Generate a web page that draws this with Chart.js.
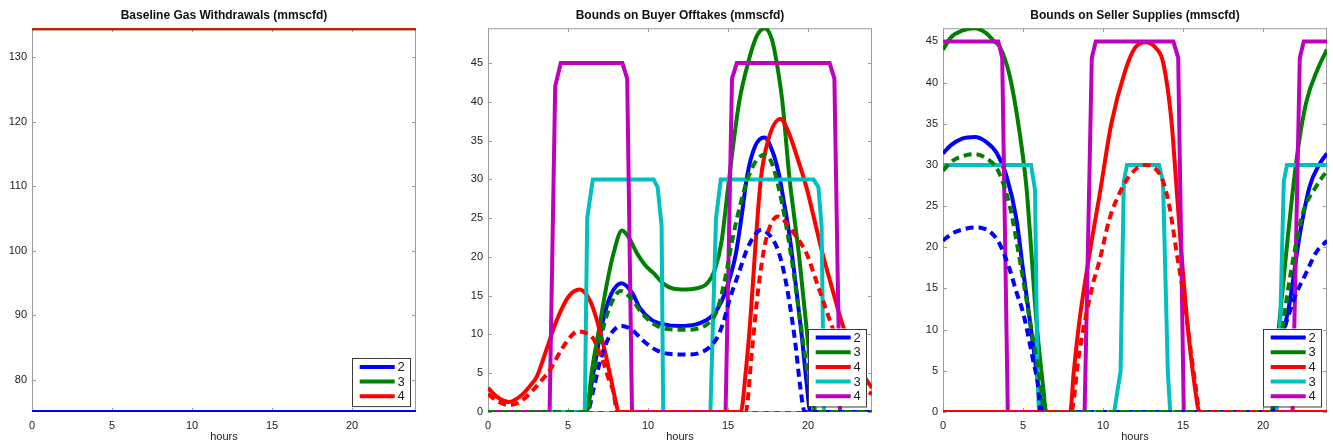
<!DOCTYPE html>
<html lang="en">
<head>
  <meta charset="UTF-8">
  <title>Gas Bounds</title>
  <script src="https://cdn.jsdelivr.net/npm/chart.js"></script>
  <style>
    body { margin: 0; background: #fff; width: 1333px; height: 446px; overflow: hidden; position: relative; }
    .panel { position: absolute; top: 0; width: 448px; height: 446px; }
  </style>
</head>
<body>
<div class="panel" style="left:0px"><canvas id="baseChart"></canvas></div>
<div class="panel" style="left:456px"><canvas id="buyChart"></canvas></div>
<div class="panel" style="left:911px"><canvas id="sellChart"></canvas></div>

<script>
// axis ticks
const hourTicks = [0, 5, 10, 15, 20];
const baseTicks = [80, 90, 100, 110, 120, 130];
const boundTicks = [0, 5, 10, 15, 20, 25, 30, 35, 40, 45];

// legends
const baseLabels = ['2', '3', '4'];
const boundLabels = ['2', '3', '4', '3', '4'];

// baseline withdrawals  [hour, mmscfd]
const baseNode2 = [[0, 75], [24, 75]];
const baseNode3 = [[0, 134.5], [24, 134.5]];
const baseNode4 = [[0, 134.5], [24, 134.5]];

// buyer offtakes - upper bounds
const buyUp2 = [[0,0],[6.15,0],[6.5,4],[6.8,7.6],[7.2,11.9],[7.7,15.2],[8.35,16.6],[9.0,15.4],[9.5,13.4],[10.2,11.9],[11,11.3],[12,11.1],[13,11.3],[13.6,11.8],[14.1,12.6],[14.6,14.3],[15.0,16.5],[15.5,20.5],[15.9,26],[16.2,30.5],[16.7,34.3],[17.27,35.4],[17.8,33.5],[18.2,30.5],[18.5,27],[18.8,23.4],[19.2,17],[19.6,10],[19.9,4],[20.15,0],[24,0]];
const buyUp3 = [[0,0],[6.15,0],[6.5,5.4],[6.9,10.2],[7.4,16.2],[7.85,20.5],[8.37,23.4],[8.8,22.5],[9.3,20.5],[9.8,19],[10.35,17.9],[11,16.5],[11.6,15.9],[12.3,15.8],[12.9,15.9],[13.7,16.6],[14.2,18.5],[14.6,22],[14.95,28],[15.3,34],[15.7,40],[16.25,45],[16.8,48.5],[17.3,49.5],[17.75,48],[18.05,45],[18.4,40],[18.85,30],[19.15,25],[19.45,20],[19.95,10],[20.55,0],[24,0]];
const buyUp4 = [[0,3.1],[0.6,1.9],[1.3,1.3],[2.0,2],[2.6,3.3],[3.06,4.6],[3.58,7.6],[4.31,11.9],[5.04,14.9],[5.73,15.8],[6.2,15],[6.6,13.2],[7.23,8.5],[7.69,4.2],[8.0,1.2],[8.16,0],[15.8,0],[16.1,5],[16.4,12],[16.7,21],[17.05,30],[17.5,35],[18.27,37.8],[18.8,36],[19.3,33],[19.9,29],[20.4,24.8],[20.9,20.5],[21.5,16],[22.2,11],[22.85,7.6],[23.4,5],[24,3.1]];
const buyUpC3 = [[0,0],[6.05,0],[6.2,25],[6.55,30],[10.35,30],[10.6,29],[10.85,24],[10.95,0],[13.9,0],[14.25,25],[14.55,30],[20.35,30],[20.65,29],[20.85,24],[21.0,0],[24,0]];
const buyUpM4 = [[0,0],[3.85,0],[4.2,42],[4.55,45],[8.4,45],[8.7,43],[9.0,0],[14.85,0],[15.25,43],[15.55,45],[21.35,45],[21.65,43],[22.0,0],[24,0]];

// buyer offtakes - lower bounds
const buyLo2 = [[0,0],[6.2,0],[6.6,3],[7.0,6.5],[7.6,9.8],[8.35,11.1],[9.0,10.6],[9.7,9.2],[10.5,8.0],[11.3,7.5],[12.3,7.4],[13.2,7.6],[13.8,8.3],[14.3,9.5],[14.7,11.5],[15.1,14.5],[15.6,17.5],[16.3,21.5],[17.1,23.5],[17.6,22.8],[18.1,21],[18.5,18],[18.85,14],[19.2,9],[19.5,3.5],[19.8,0],[24,0]];
const buyLo3 = [[0,0],[6.2,0],[6.6,5],[7.1,10],[7.6,13.5],[8.3,15.6],[9.0,14.5],[9.6,12.8],[10.4,11.3],[11.2,10.7],[12.3,10.6],[13.2,10.8],[13.8,11.5],[14.3,13],[14.8,17],[15.3,22.5],[15.8,27],[16.3,30.5],[16.8,32.5],[17.3,33.2],[17.7,32.3],[18.1,29.5],[18.6,24.5],[19.1,18],[19.5,12],[19.9,6],[20.3,1],[20.5,0],[24,0]];
const buyLo4 = [[0,2.3],[0.6,1.4],[1.3,0.9],[2.0,1.3],[2.8,2.8],[3.4,4.2],[3.9,5.5],[4.3,7],[4.73,8.5],[5.2,9.8],[5.6,10.4],[6.1,10.2],[6.6,9.4],[6.9,8],[7.23,6.3],[7.55,4.2],[7.85,2.5],[8.06,0],[16.1,0],[16.5,8],[16.9,16],[17.3,21.5],[17.7,24.3],[18.1,25.2],[18.6,24.5],[19.2,22.8],[19.9,20.5],[20.5,17],[20.98,14.1],[21.6,10.5],[22.2,7.6],[22.8,5],[23.3,3.3],[24,2.3]];
const buyLoM4 = [[0,0],[24,0]];

// seller supplies - upper bounds
const sellUp2 = [[0,31.4],[0.5,32.4],[1.2,33.2],[1.98,33.4],[2.7,32.8],[3.34,31.5],[3.96,28.7],[4.59,23.4],[5.0,17.3],[5.42,11.25],[5.83,5.2],[6.05,2],[6.25,0],[20.6,0],[21.04,7.2],[21.67,13.3],[22.29,21.4],[22.92,27.4],[23.5,30],[24,31.4]];
const sellUp3 = [[0,44],[0.5,45.5],[1.2,46.3],[1.98,46.6],[2.7,46],[3.2,45],[3.54,44.4],[4.17,40.8],[4.79,33.9],[5.21,27.4],[5.42,22.2],[5.83,11.25],[6.25,3.2],[6.46,0],[20.45,0],[21.04,11.25],[21.56,21.4],[22.1,30.7],[22.7,37.6],[23.5,42],[24,44]];
const sellUp4 = [[0,0],[7.95,0],[8.17,4.8],[8.54,11.25],[9.17,19.35],[9.8,26.5],[10.52,35],[11.4,41.5],[12.0,44.2],[12.65,44.9],[13.3,44.2],[13.75,42.5],[14.27,35.5],[14.59,27.4],[14.9,19.35],[15.25,11.25],[15.73,3.2],[16.04,0],[24,0]];
const sellUpC3 = [[0,30],[5.5,30],[5.75,27],[5.9,5],[6.0,0],[10.7,0],[11.1,5],[11.3,28],[11.5,30],[13.5,30],[13.75,28],[14.05,5],[14.2,0],[20.85,0],[21.0,5],[21.3,28],[21.5,30],[24,30]];
const sellUpM4 = [[0,45],[3.45,45],[3.7,43],[4.05,0],[8.85,0],[9.3,43],[9.55,45],[14.4,45],[14.7,43],[15.05,0],[21.85,0],[22.3,43],[22.55,45],[24,45]];

// seller supplies - lower bounds
const sellLo2 = [[0,20.8],[0.6,21.7],[1.3,22.2],[1.98,22.4],[2.5,22.3],[3.0,21.8],[3.54,20.4],[4.17,17.3],[4.6,14.5],[5.0,12.1],[5.62,6.4],[5.94,3.2],[6.1,0],[20.6,0],[21.04,7.2],[21.87,13.3],[22.7,16.9],[23.33,19.4],[24,20.8]];
const sellLo3 = [[0,29.3],[0.6,30.5],[1.3,31.1],[1.98,31.3],[2.7,30.8],[3.44,29.3],[4.17,25],[4.9,17.3],[5.42,11.25],[5.94,5.2],[6.2,2],[6.36,0],[20.55,0],[21.15,9.2],[21.77,17.3],[22.5,24.2],[23.33,27.4],[24,29.3]];
const sellLo4 = [[0,0],[8.0,0],[8.5,7],[9.3,15],[9.8,18.5],[10.4,23.4],[11.25,27.4],[12.0,29.4],[12.7,30],[13.3,29.5],[13.75,28],[14.15,25],[14.6,19.4],[15.1,13.3],[15.5,7.2],[15.8,3],[16.05,0],[24,0]];
const sellLoM4 = [[0,0],[24,0]];

const BLUE = '#0000ff', GREEN = '#008000', RED = '#ff0000', CYAN = '#00bfbf', MAGENTA = '#bf00bf';
const AXIS_GRAY = '#9c9c9c';
const FONT = "'Liberation Sans', Arial, sans-serif";
Chart.defaults.font.family = FONT;

function line(label, data, color, smooth, dash, width) {
  return {
    label, data,
    borderColor: color,
    borderWidth: width || 4,
    borderDash: dash || [],
    fill: false,
    pointRadius: 0,
    tension: 0,
    cubicInterpolationMode: smooth ? 'monotone' : 'default'
  };
}

// later series on top, like plot() with hold on
function stack(sets) {
  sets.forEach((ds, i) => { ds.order = sets.length - i; });
  return sets;
}

// box, inward ticks and legend in matlab style
const matlabBox = {
  id: 'matlabBox',
  beforeDatasetsDraw(chart) {
    const { ctx, chartArea: a, scales: { x, y } } = chart;
    ctx.save();
    ctx.strokeStyle = AXIS_GRAY;
    ctx.lineWidth = 1;
    ctx.strokeRect(a.left + 0.5, a.top + 0.5, a.right - a.left - 1, a.bottom - a.top - 1);
    ctx.beginPath();
    x.ticks.forEach(t => {
      const px = Math.round(x.getPixelForValue(t.value)) + 0.5;
      ctx.moveTo(px, a.bottom); ctx.lineTo(px, a.bottom - 4);
      ctx.moveTo(px, a.top); ctx.lineTo(px, a.top + 4);
    });
    y.ticks.forEach(t => {
      const py = Math.round(y.getPixelForValue(t.value)) + 0.5;
      ctx.moveTo(a.left, py); ctx.lineTo(a.left + 4, py);
      ctx.moveTo(a.right, py); ctx.lineTo(a.right - 4, py);
    });
    ctx.stroke();
    ctx.restore();
  },
  afterDatasetsDraw(chart, args, opts) {
    const { ctx, chartArea: a } = chart;
    const labels = opts.labels || [];
    const rowH = 14.7;
    const w = 58, h = labels.length * rowH + 4;
    const left = a.right - 6 - w, top = a.bottom - 6 - h;
    ctx.save();
    ctx.fillStyle = '#fff';
    ctx.fillRect(left, top, w, h);
    ctx.strokeStyle = '#3a3a3a';
    ctx.lineWidth = 1;
    ctx.strokeRect(Math.round(left) + 0.5, Math.round(top) + 0.5, w, h);
    ctx.font = '13px ' + FONT;
    ctx.textBaseline = 'middle';
    labels.forEach((lab, i) => {
      const ds = chart.data.datasets[i];
      const cy = top + 9 + i * rowH;
      ctx.strokeStyle = ds.borderColor;
      ctx.lineWidth = 4;
      ctx.beginPath();
      ctx.moveTo(left + 7.7, cy); ctx.lineTo(left + 42.7, cy);
      ctx.stroke();
      ctx.fillStyle = '#222';
      ctx.fillText(lab, left + 45.5, cy + 0.5);
    });
    ctx.restore();
  }
};

function makeChart(id, title, yMin, yMax, yTicks, datasets, labels) {
  return new Chart(document.getElementById(id), {
    type: 'line',
    data: { datasets: stack(datasets) },
    plugins: [matlabBox],
    options: {
      responsive: true,
      maintainAspectRatio: false,
      animation: false,
      layout: { padding: { left: 0, right: 0, top: 0, bottom: 2 } },
      plugins: {
        legend: { display: false },
        tooltip: { enabled: false },
        title: {
          display: true, text: title, color: '#111',
          font: { size: 12, weight: 'bold' },
          padding: { top: 8, bottom: 5.8 }
        },
        matlabBox: { labels }
      },
      scales: {
        x: {
          type: 'linear', min: 0, max: 24,
          grid: { display: false, drawTicks: false, tickLength: 0 },
          border: { display: false },
          afterBuildTicks: s => { s.ticks = hourTicks.map(v => ({ value: v })); },
          afterFit: s => { s.height = 32; },
          ticks: { color: '#222', font: { size: 11 }, padding: 7, maxRotation: 0 },
          title: { display: true, text: 'hours', color: '#222', font: { size: 11 }, padding: 0 }
        },
        y: {
          type: 'linear', min: yMin, max: yMax,
          grid: { display: false, drawTicks: false, tickLength: 0 },
          border: { display: false },
          afterBuildTicks: s => { s.ticks = yTicks.map(v => ({ value: v })); },
          afterFit: s => { s.width = 32; },
          ticks: { color: '#222', font: { size: 11 }, padding: 5 }
        },
        // empty right axis, same width as the left one, so the title centres on the axes
        yRight: {
          type: 'linear', position: 'right', min: yMin, max: yMax,
          grid: { display: false, drawTicks: false },
          border: { display: false },
          ticks: { display: false },
          afterFit: s => { s.width = 32; }
        }
      }
    }
  });
}

makeChart('baseChart', 'Baseline Gas Withdrawals (mmscfd)', 75, 134.5, baseTicks, [
  line('2', baseNode2, BLUE, false),
  line('3', baseNode3, GREEN, false),
  line('4', baseNode4, RED, false)
], baseLabels);

makeChart('buyChart', 'Bounds on Buyer Offtakes (mmscfd)', 0, 49.5, boundTicks, [
  line('2', buyUp2, BLUE, true),
  line('3', buyUp3, GREEN, true),
  line('4', buyUp4, RED, true),
  line('3', buyUpC3, CYAN, false),
  line('4', buyUpM4, MAGENTA, false),
  line('2 min', buyLo2, BLUE, true, [8, 5]),
  line('3 min', buyLo3, GREEN, true, [8, 5]),
  line('4 min', buyLo4, RED, true, [8, 5]),
  line('4 min', buyLoM4, MAGENTA, false, [6, 5], 2)
], boundLabels);

makeChart('sellChart', 'Bounds on Seller Supplies (mmscfd)', 0, 46.6, boundTicks, [
  line('2', sellUp2, BLUE, true),
  line('3', sellUp3, GREEN, true),
  line('4', sellUp4, RED, true),
  line('3', sellUpC3, CYAN, false),
  line('4', sellUpM4, MAGENTA, false),
  line('2 min', sellLo2, BLUE, true, [8, 5]),
  line('3 min', sellLo3, GREEN, true, [8, 5]),
  line('4 min', sellLo4, RED, true, [8, 5]),
  line('4 min', sellLoM4, MAGENTA, false, [6, 5], 2)
], boundLabels);
</script>
</body>
</html>
